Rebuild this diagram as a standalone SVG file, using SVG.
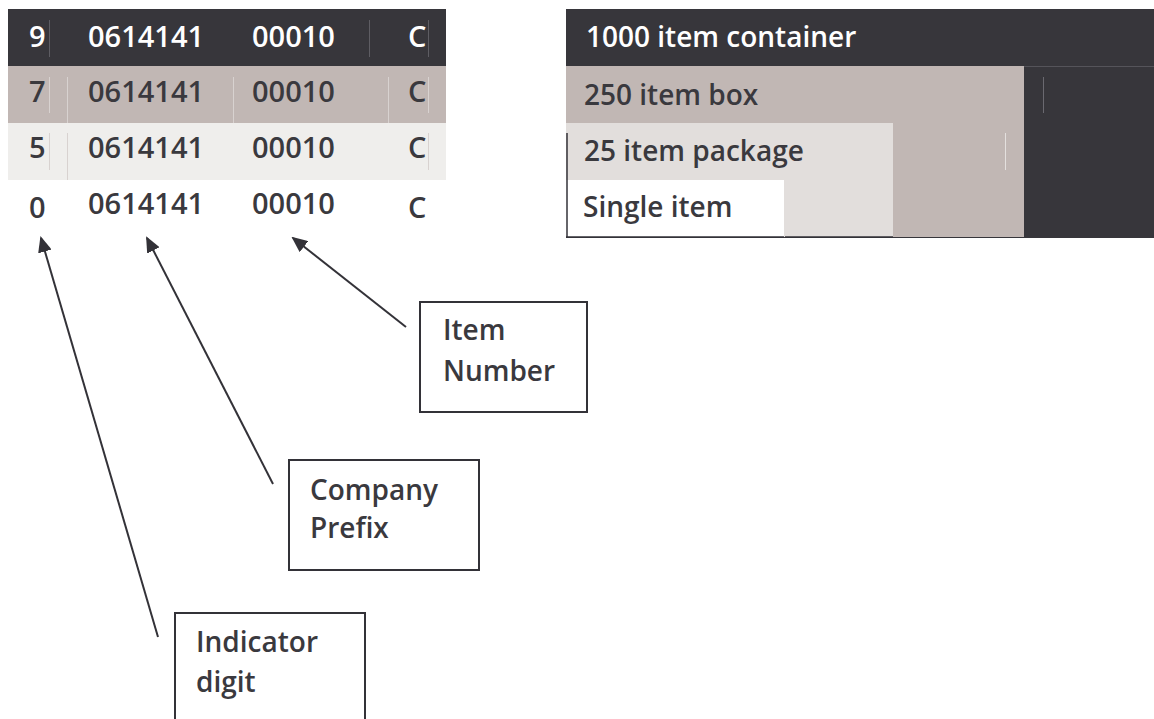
<svg xmlns="http://www.w3.org/2000/svg" width="1154" height="719" viewBox="0 0 1154 719">
<style>
text{font-family:"Open Sans","DejaVu Sans",sans-serif;font-weight:600;}
.tl{font-size:29px;fill:#3a393e;}
.tw{font-size:29px;fill:#ffffff;}
.r{font-size:28px;fill:#3a393e;}
.rw{font-size:28px;fill:#ffffff;}
.c{font-size:28px;fill:#3a393e;}
.box{fill:#ffffff;stroke:#333238;stroke-width:2;}
.conn{stroke:#333238;stroke-width:2;fill:none;marker-end:url(#ah);}
.fl{stroke:#d8d2d0;stroke-width:1;}
.fd{stroke:#5e5d63;stroke-width:1;}
</style>
<defs>
<marker id="ah" markerWidth="16" markerHeight="14" refX="14" refY="7" orient="auto" markerUnits="userSpaceOnUse" viewBox="0 0 16 14">
<path d="M0,0 L16,7 L0,14 z" fill="#333238"/>
</marker>
</defs>
<rect width="1154" height="719" fill="#ffffff"/>

<g id="gtin-table">
<rect x="8" y="9" width="438" height="57" fill="#37363b"/>
<rect x="8" y="66" width="438" height="57" fill="#c1b7b4"/>
<rect x="8" y="123" width="438" height="57" fill="#efeeec"/>
<line class="fd" x1="49.5" y1="20" x2="49.5" y2="57"/>
<line class="fd" x1="369.5" y1="20" x2="369.5" y2="57"/>
<line class="fd" x1="428.5" y1="20" x2="428.5" y2="57"/>
<line class="fl" x1="49.5" y1="77" x2="49.5" y2="113"/>
<line class="fl" x1="67.5" y1="77" x2="67.5" y2="123"/>
<line class="fl" x1="233.5" y1="77" x2="233.5" y2="123"/>
<line class="fl" x1="388.5" y1="77" x2="388.5" y2="123"/>
<line class="fl" x1="428.5" y1="77" x2="428.5" y2="113"/>
<line class="fl" x1="49.5" y1="133" x2="49.5" y2="170"/>
<line class="fl" x1="67.5" y1="133" x2="67.5" y2="180"/>
<line class="fl" x1="428.5" y1="133" x2="428.5" y2="170"/>
<text class="tw" x="29" y="47">9</text>
<text class="tw" x="88" y="47">0614141</text>
<text class="tw" x="252" y="47">00010</text>
<text class="tw" x="408" y="47">C</text>
<text class="tl" x="29" y="102">7</text>
<text class="tl" x="88" y="102">0614141</text>
<text class="tl" x="252" y="102">00010</text>
<text class="tl" x="408" y="102">C</text>
<text class="tl" x="29" y="158">5</text>
<text class="tl" x="88" y="158">0614141</text>
<text class="tl" x="252" y="158">00010</text>
<text class="tl" x="408" y="158">C</text>
<text class="tl" x="29" y="218">0</text>
<text class="tl" x="88" y="214">0614141</text>
<text class="tl" x="252" y="214">00010</text>
<text class="tl" x="408" y="218">C</text>
</g>

<g id="packaging">
<rect x="566" y="9" width="588" height="229" fill="#37363b"/>
<line x1="1024" y1="66.5" x2="1154" y2="66.5" stroke="#55545a" stroke-width="1"/>
<rect x="566" y="66" width="458" height="171" fill="#c1b7b4"/>
<rect x="566" y="123" width="327" height="114" fill="#e2dedc"/>
<rect x="566" y="180" width="218" height="57" fill="#ffffff"/>
<line x1="1043.5" y1="77" x2="1043.5" y2="113" stroke="#6a6970" stroke-width="1"/>
<line x1="1005.5" y1="133" x2="1005.5" y2="170" stroke="#e4e0de" stroke-width="1"/>
<line x1="567" y1="133" x2="567" y2="237" stroke="#333238" stroke-width="1.5"/>
<line x1="566" y1="237" x2="784" y2="237" stroke="#333238" stroke-width="1.5"/>
<line x1="785" y1="237" x2="893" y2="237" stroke="#333238" stroke-width="1.5"/>
<text class="rw" x="586" y="47">1000 item container</text>
<text class="r" x="584" y="105">250 item box</text>
<text class="r" x="584" y="161">25 item package</text>
<text class="r" x="583" y="217">Single item</text>
</g>

<g id="item-number">
<rect class="box" x="420" y="302" width="167" height="110"/>
<text class="c" x="443" y="340">Item</text>
<text class="c" x="443" y="381">Number</text>
</g>

<g id="company-prefix">
<rect class="box" x="289" y="460" width="190" height="110"/>
<text class="c" x="310" y="500">Company</text>
<text class="c" x="310" y="538">Prefix</text>
</g>

<g id="indicator-digit">
<rect class="box" x="175" y="613" width="190" height="120"/>
<text class="c" x="196" y="652">Indicator</text>
<text class="c" x="196" y="692">digit</text>
</g>

<g id="connectors">
<line class="conn" x1="158" y1="637" x2="41" y2="238"/>
<line class="conn" x1="273" y1="484" x2="147" y2="238"/>
<line class="conn" x1="406" y1="327" x2="293" y2="238"/>
</g>
</svg>
